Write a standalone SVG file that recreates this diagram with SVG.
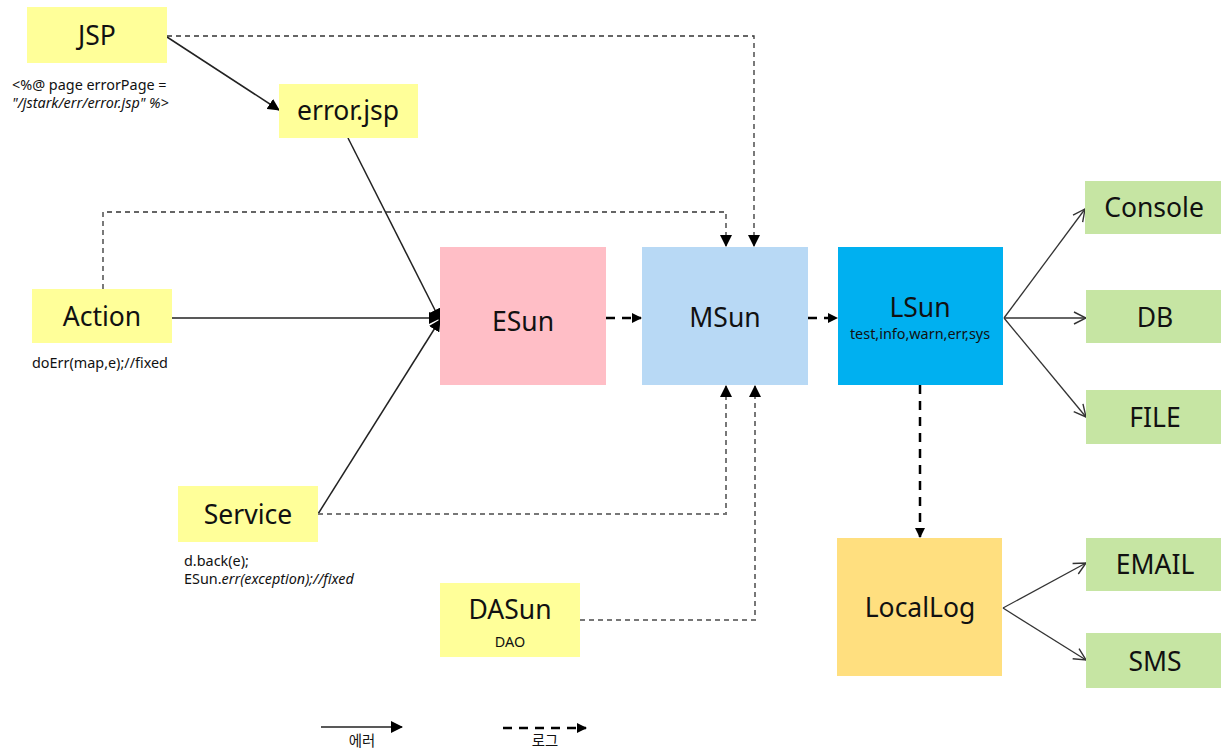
<svg xmlns="http://www.w3.org/2000/svg" width="1221" height="749" viewBox="0 0 1221 749">
<style>
text{font-family:"Noto Sans","Open Sans","Noto Sans CJK KR",sans-serif;fill:#111}
.lbl{font-size:26.5px;text-anchor:middle}
.sm{font-size:14.4px}
.smc{font-size:14.4px;text-anchor:middle}
.yel{fill:#ffff99}
.grn{fill:#c6e5a3}
.err{fill:none;stroke:#222;stroke-width:1.5}
.out{fill:none;stroke:#333;stroke-width:1.3}
.logd{fill:none;stroke:#333;stroke-width:1.3;stroke-dasharray:5 4}
.logg{fill:none;stroke:#777;stroke-width:2;stroke-dasharray:5 4}
.logb{fill:none;stroke:#000;stroke-width:2.5;stroke-dasharray:9 7}
</style>
<defs>
<marker id="fa" viewBox="0 0 10 10" refX="9" refY="5" markerWidth="10" markerHeight="10" markerUnits="userSpaceOnUse" orient="auto">
<path d="M0,0 L10,5 L0,10 z" fill="#000"/>
</marker>
<marker id="fa2" viewBox="0 0 12 12" refX="11" refY="6" markerWidth="12" markerHeight="12" markerUnits="userSpaceOnUse" orient="auto">
<path d="M0,0 L12,6 L0,12 z" fill="#000"/>
</marker>
<marker id="oa" viewBox="0 0 14 14" refX="13" refY="7" markerWidth="14" markerHeight="14" markerUnits="userSpaceOnUse" orient="auto">
<path d="M1,1 L13,7 L1,13" fill="none" stroke="#333" stroke-width="1.4"/>
</marker>
</defs>

<g id="connectors">
<line class="err" x1="167" y1="37" x2="279" y2="110" marker-end="url(#fa2)"/>
<line class="err" x1="348" y1="138" x2="440" y2="320" marker-end="url(#fa2)"/>
<line class="err" x1="172" y1="318" x2="440" y2="318" marker-end="url(#fa2)"/>
<line class="err" x1="318" y1="514" x2="440" y2="320" marker-end="url(#fa2)"/>
<polyline class="logd" points="167,36 754,36 754,246" marker-end="url(#fa2)"/>
<polyline class="logd" points="103,289 103,212 726,212 726,246" marker-end="url(#fa2)"/>
<polyline class="logg" points="318,514 726,514 726,386" marker-end="url(#fa2)"/>
<polyline class="logg" points="580,620 755,620 755,386" marker-end="url(#fa2)"/>
<line class="logb" x1="606" y1="318" x2="641" y2="318" marker-end="url(#fa)"/>
<line class="logb" x1="808" y1="318" x2="837" y2="318" marker-end="url(#fa)"/>
<line class="logb" x1="920" y1="385" x2="920" y2="537" marker-end="url(#fa)"/>
<line class="out" x1="1004" y1="318" x2="1085" y2="209" marker-end="url(#oa)"/>
<line class="out" x1="1004" y1="318" x2="1086" y2="318" marker-end="url(#oa)"/>
<line class="out" x1="1004" y1="318" x2="1086" y2="417" marker-end="url(#oa)"/>
<line class="out" x1="1003" y1="608" x2="1086" y2="563" marker-end="url(#oa)"/>
<line class="out" x1="1003" y1="608" x2="1086" y2="660" marker-end="url(#oa)"/>
</g>

<g id="JSP"><rect class="yel" x="27" y="7" width="140" height="56"/><text class="lbl" x="97" y="45" font-size="29">JSP</text></g>
<g id="JSP-note"><text class="sm" x="12" y="90" fill="#333">&lt;%@ page errorPage =</text><text class="sm" x="12" y="108" font-style="italic">"/jstark/err/error.jsp" %&gt;</text></g>
<g id="error-jsp"><rect class="yel" x="279" y="84" width="139" height="54"/><text class="lbl" x="348" y="120">error.jsp</text></g>
<g id="Action"><rect class="yel" x="32" y="289" width="140" height="54"/><text class="lbl" x="102" y="326">Action</text><text class="sm" x="32" y="368">doErr(map,e);//fixed</text></g>
<g id="Service"><rect class="yel" x="178" y="486" width="140" height="56"/><text class="lbl" x="248" y="524">Service</text><text class="sm" x="184" y="566">d.back(e);</text><text class="sm" x="184" y="584">ESun.<tspan font-style="italic">err(exception);//fixed</tspan></text></g>
<g id="DASun"><rect class="yel" x="440" y="583" width="140" height="74"/><text class="lbl" x="510" y="619" font-size="25.5">DASun</text><text class="smc" x="510" y="647" font-size="13">DAO</text></g>
<g id="ESun"><rect x="440" y="247" width="166" height="138" fill="#ffbec6"/><text class="lbl" x="523" y="331" font-size="34">ESun</text></g>
<g id="MSun"><rect x="642" y="247" width="166" height="138" fill="#b8d9f5"/><text class="lbl" x="725" y="327" font-size="27.5">MSun</text></g>
<g id="LSun"><rect x="838" y="247" width="165" height="138" fill="#00b0f0"/><text class="lbl" x="920" y="317">LSun</text><text class="smc" x="920" y="339">test,info,warn,err,sys</text></g>
<g id="Console"><rect class="grn" x="1085" y="181" width="136" height="53"/><text class="lbl" x="1154" y="217">Console</text></g>
<g id="DB"><rect class="grn" x="1086" y="290" width="135" height="53"/><text class="lbl" x="1155" y="327">DB</text></g>
<g id="FILE"><rect class="grn" x="1086" y="390" width="135" height="54"/><text class="lbl" x="1155" y="427">FILE</text></g>
<g id="LocalLog"><rect x="837" y="538" width="165" height="138" fill="#ffdf7f"/><text class="lbl" x="920" y="617">LocalLog</text></g>
<g id="EMAIL"><rect class="grn" x="1086" y="538" width="135" height="53"/><text class="lbl" x="1155" y="574">EMAIL</text></g>
<g id="SMS"><rect class="grn" x="1086" y="633" width="135" height="55"/><text class="lbl" x="1155" y="671">SMS</text></g>

<g id="legend">
<line class="err" x1="321" y1="727" x2="402" y2="727" stroke-width="2" marker-end="url(#fa2)"/>
<text class="smc" x="362" y="746">에러</text>
<line class="logb" x1="503" y1="728" x2="586" y2="728" marker-end="url(#fa)"/>
<text class="smc" x="545" y="746">로그</text>
</g>
</svg>
